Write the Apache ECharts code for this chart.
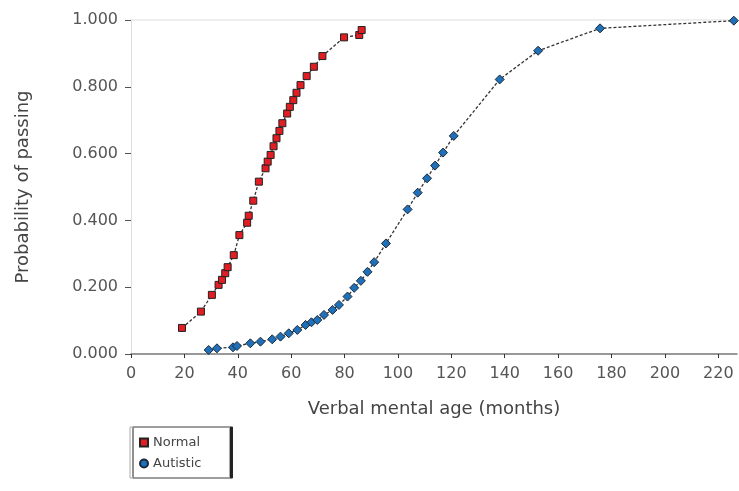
<!DOCTYPE html>
<html>
<head>
<meta charset="utf-8">
<script src="https://cdn.jsdelivr.net/npm/echarts@6/dist/echarts.min.js"></script>
<style>html,body{margin:0;padding:0;background:#fff}#c{width:739px;height:491px}</style>
</head>
<body>
<div id="c"></div>
<script>
var xTicks = [0, 20, 40, 60, 80, 100, 120, 140, 160, 180, 200, 220];
var yTicks = [0, 0.2, 0.4, 0.6, 0.8, 1.0];
var seriesNames = ['Normal', 'Autistic'];
var normalX = [19.1, 26.2, 30.3, 32.8, 34.1, 35.3, 36.2, 38.5, 40.6, 43.5, 44.1, 45.8, 47.9, 50.4, 51.2, 52.3, 53.4, 54.5, 55.6, 56.7, 58.5, 59.5, 60.8, 62.0, 63.5, 65.8, 68.5, 71.7, 79.8, 85.5, 86.4];
var normalY = [0.078, 0.127, 0.177, 0.207, 0.222, 0.242, 0.260, 0.296, 0.356, 0.393, 0.414, 0.459, 0.516, 0.556, 0.576, 0.596, 0.622, 0.646, 0.668, 0.691, 0.720, 0.740, 0.760, 0.782, 0.805, 0.832, 0.860, 0.892, 0.948, 0.955, 0.970];
var autisticX = [29.1, 32.2, 38.2, 39.7, 44.7, 48.5, 52.9, 56.0, 59.1, 62.3, 65.4, 67.6, 69.8, 72.3, 75.5, 77.9, 81.1, 83.6, 86.1, 88.6, 91.1, 95.5, 103.6, 107.4, 110.9, 113.9, 116.9, 120.9, 138.1, 152.5, 175.7, 225.8];
var autisticY = [0.012, 0.017, 0.020, 0.024, 0.032, 0.037, 0.044, 0.052, 0.062, 0.072, 0.087, 0.095, 0.102, 0.117, 0.132, 0.147, 0.172, 0.198, 0.219, 0.246, 0.275, 0.331, 0.433, 0.483, 0.526, 0.564, 0.603, 0.653, 0.822, 0.908, 0.975, 0.998];

function pairs(xs, ys) { return xs.map(function (x, i) { return [x, ys[i]]; }); }

var chart = echarts.init(document.getElementById('c'), null, {renderer: 'canvas'});
var font = 'DejaVu Sans, Verdana, sans-serif';
chart.setOption({
  animation: false,
  grid: {left: 131, top: 20, right: 2, bottom: 137, containLabel: false},
  xAxis: [{
    type: 'value', min: 0, max: 227, interval: 20,
    name: 'Verbal mental age (months)', nameLocation: 'middle', nameGap: 46,
    nameTextStyle: {color: '#444', fontSize: 18, fontFamily: font},
    axisLine: {show: true, lineStyle: {color: '#777', width: 1.5}},
    axisTick: {show: true, length: 4, customValues: xTicks, lineStyle: {color: '#333'}},
    axisLabel: {customValues: xTicks, color: '#555', fontSize: 16, fontFamily: font, margin: 12},
    splitLine: {show: false}
  }, {
    type: 'value', min: 0, max: 227, position: 'top',
    axisLine: {show: true, lineStyle: {color: '#eeeeee', width: 2}},
    axisTick: {show: false}, axisLabel: {show: false}, splitLine: {show: false}
  }],
  yAxis: {
    type: 'value', min: 0, max: 1, interval: 0.2,
    name: 'Probability of passing', nameLocation: 'middle', nameGap: 99,
    nameTextStyle: {color: '#444', fontSize: 18, fontFamily: font},
    axisLine: {show: true, lineStyle: {color: '#ddd'}},
    axisTick: {show: true, length: 6, lineStyle: {color: '#555'}},
    axisLabel: {color: '#555', fontSize: 16, fontFamily: font, margin: 13,
      formatter: function (v) { return v.toFixed(3); }},
    splitLine: {show: false}
  },
  legend: {
    orient: 'vertical', left: 130, top: 427,
    padding: [9, 28, 8, 9], itemGap: 8, itemWidth: 8, itemHeight: 8,
    backgroundColor: '#fff', borderColor: '#aaa', borderWidth: 1, borderRadius: 0,
    shadowColor: '#222', shadowOffsetX: 3, shadowOffsetY: 0, shadowBlur: 0,
    textStyle: {color: '#444', fontSize: 13, fontFamily: font},
    data: [{name: seriesNames[0], icon: 'rect'}, {name: seriesNames[1], icon: 'circle'}]
  },
  series: [{
    name: seriesNames[0], type: 'line', xAxisIndex: 0,
    data: pairs(normalX, normalY),
    symbol: 'rect', symbolSize: 7,
    itemStyle: {color: '#e01e24', borderColor: '#222', borderWidth: 1},
    lineStyle: {color: '#333', width: 1.3, type: [3, 2]}
  }, {
    name: seriesNames[1], type: 'line', xAxisIndex: 0,
    data: pairs(autisticX, autisticY),
    symbol: 'diamond', symbolSize: 9,
    itemStyle: {color: '#1f70b8', borderColor: '#1a2a3a', borderWidth: 1},
    lineStyle: {color: '#333', width: 1.3, type: [3, 2]}
  }]
});
</script>
</body>
</html>
